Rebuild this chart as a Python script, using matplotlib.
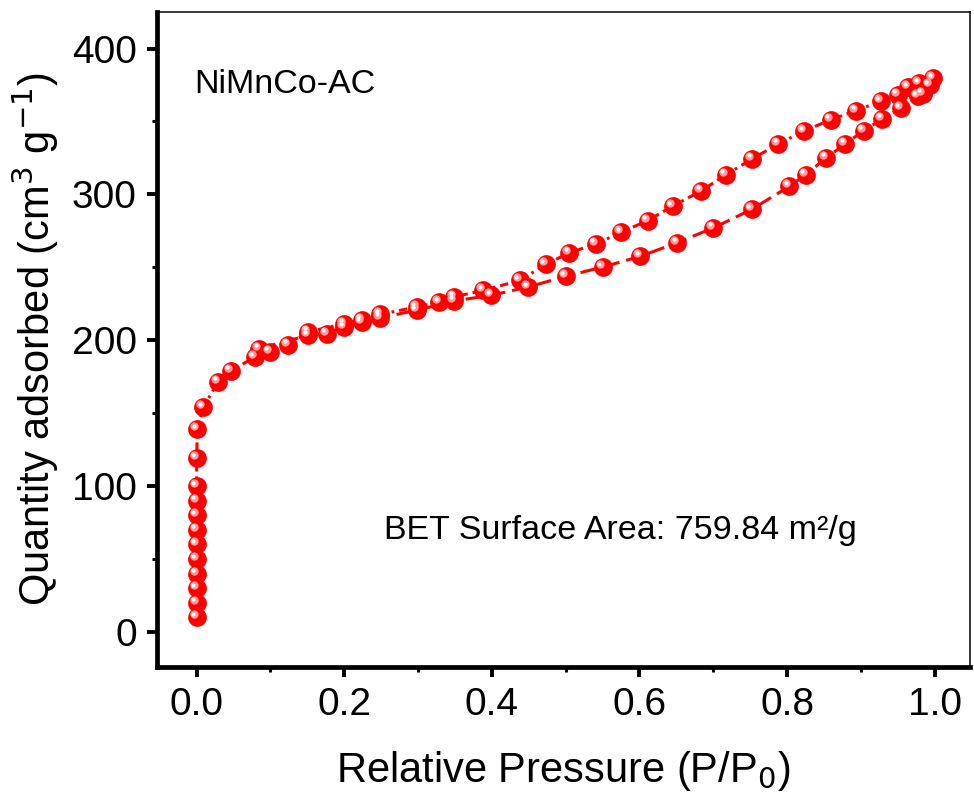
import numpy
import matplotlib
matplotlib.use('Agg')
import matplotlib.pyplot as plt
from matplotlib import transforms

plt.rcParams['font.family'] = ['Liberation Sans', 'DejaVu Sans']
plt.rcParams['lines.scale_dashes'] = False

# upper branch (dash-dot), incl. the low pressure part
p_upper = [0.0, 0.0, 0.0, 0.0, 0.0, 0.0, 0.0, 0.0, 0.0, 0.0,
           0.0, 0.001, 0.009, 0.029, 0.046, 0.079, 0.099, 0.124, 0.151,
           0.2, 0.224, 0.249, 0.298, 0.329, 0.349, 0.388, 0.438, 0.473,
           0.505, 0.541, 0.575, 0.611, 0.645, 0.684, 0.717, 0.753, 0.788,
           0.823, 0.859, 0.894, 0.927, 0.95, 0.964, 0.979, 0.998]
q_upper = [10, 20, 30, 40, 50, 60, 70, 80, 90, 100,
           119, 139, 154, 171.5, 179, 188.5, 192, 197, 205.7,
           211.4, 214.2, 217.8, 222.8, 226.2, 229.7, 234.2, 241, 252,
           260, 266, 274, 282, 292, 302.5, 313.5, 324.4, 334.7,
           343.4, 351.2, 357.5, 364, 368.3, 373.5, 376.3, 379.7]

# lower branch (dashed)
p_lower = [0.085, 0.151, 0.176, 0.2, 0.224, 0.249, 0.298, 0.349, 0.399,
           0.449, 0.5, 0.55, 0.601, 0.651, 0.70, 0.752, 0.803, 0.825,
           0.853, 0.879, 0.904, 0.929, 0.954, 0.977, 0.984, 0.993]
q_lower = [194.3, 203.4, 204.6, 209, 212.5, 215.5, 220.5, 227, 230.8,
           236.5, 243.8, 250.2, 257.5, 266.9, 277, 289.7, 305.5, 313.5,
           325, 334.7, 343.8, 351.8, 359.1, 367.3, 369, 374.7]

sample_name = 'NiMnCo-AC'
bet_text = 'BET Surface Area: 759.84 m²/g'

fig = plt.figure(figsize=(9.74, 8.06), dpi=100)
axs = fig.add_axes([0.161, 0.1725, 0.835, 0.8125])

line_color = '#ff0000'
axs.plot(p_lower, q_lower, color=line_color, linewidth=2.2, dashes=(12, 5), zorder=2)
axs.plot(p_upper, q_upper, color=line_color, linewidth=2.2, dashes=(6, 3.5, 2, 3.5), zorder=2)

# sphere-like markers: red ball + light highlight up-left
hl1 = transforms.offset_copy(axs.transData, fig=fig, x=-3.0, y=3.0, units='dots')
hl2 = transforms.offset_copy(axs.transData, fig=fig, x=-3.5, y=3.5, units='dots')
for px, qy in [(p_lower, q_lower), (p_upper, q_upper)]:
    axs.plot(px, qy, 'o', color=line_color, markersize=13.5, markeredgewidth=0, zorder=3)
    axs.plot(px, qy, 'o', color='#ff9a9a', markersize=6, markeredgewidth=0, zorder=4, transform=hl1)
    axs.plot(px, qy, 'o', color='#ffffff', markersize=3, markeredgewidth=0, zorder=5, transform=hl2)

axs.set_xlim(-0.054, 1.048)
axs.set_ylim(-24, 425)

axs.xaxis.set_major_locator(plt.MultipleLocator(0.2))
axs.xaxis.set_minor_locator(plt.MultipleLocator(0.1))
axs.yaxis.set_major_locator(plt.MultipleLocator(100))
axs.yaxis.set_minor_locator(plt.MultipleLocator(50))
axs.xaxis.set_major_formatter(plt.FormatStrFormatter('%.1f'))

axs.spines['left'].set_linewidth(3.4)
axs.spines['bottom'].set_linewidth(3.4)
axs.spines['top'].set_linewidth(1.1)
axs.spines['right'].set_linewidth(1.1)

axs.tick_params(axis='both', which='major', length=7.5, width=2.8, direction='out', labelsize=28, pad=7)
axs.tick_params(axis='both', which='minor', length=3.5, width=2.2, direction='out')
axs.tick_params(top=False, right=False, which='both')

axs.set_xlabel('Relative Pressure (P/P$_0$)', size=30, labelpad=19)
axs.set_ylabel('Quantity adsorbed (cm$^3$ g$^{-1}$)', size=30, labelpad=8)

axs.text(0.046, 0.89, sample_name, transform=axs.transAxes, fontsize=24.5, va='center', ha='left')
axs.text(0.279, 0.209, bet_text, transform=axs.transAxes, fontsize=24.5, va='center', ha='left')

plt.savefig('out.png', dpi=100)
